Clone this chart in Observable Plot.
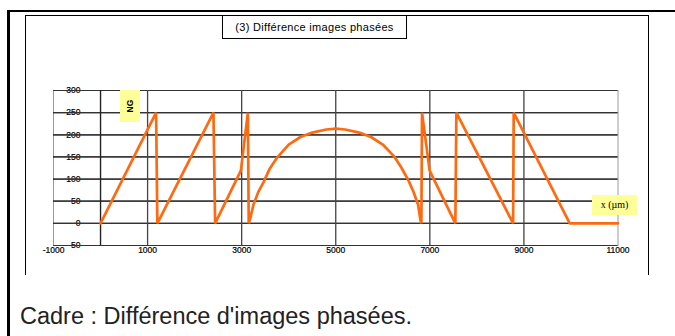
<!DOCTYPE html>
<html>
<head>
<meta charset="utf-8">
<script src="https://cdn.jsdelivr.net/npm/d3@7"></script>
<script src="https://cdn.jsdelivr.net/npm/@observablehq/plot@0.6"></script>
<style>
  html, body { margin: 0; padding: 0; background: #fff; }
  #page { position: relative; width: 675px; height: 336px; overflow: hidden; font-family: Arial, "Liberation Sans", sans-serif; }
  #outer { position: absolute; left: 7px; top: 10px; width: 700px; height: 400px; border-left: 3px solid #000; border-top: 2.5px solid #000; box-sizing: border-box; }
  #inner { position: absolute; left: 25px; top: 15px; width: 624px; height: 260px; border-left: 1px solid #000; border-top: 1px solid #000; border-right: 1px solid #000; box-sizing: border-box; }
  #chart { position: absolute; left: 0; top: 0; }
  #title { position: absolute; left: 222px; top: 15px; width: 185px; height: 24px; border: 1px solid #000; border-right-width: 1.5px; border-bottom-width: 1.5px; box-sizing: border-box; background: #fff; font-size: 11px; line-height: 22px; text-align: center; letter-spacing: 0.3px; color: #000; }
  #ng { position: absolute; left: 120px; top: 90px; width: 19.5px; height: 32px; background: #FFFF99; }
  #ng span { position: absolute; left: 50%; top: 50%; transform: translate(-50%, -50%) rotate(-90deg); font-size: 8.5px; font-weight: bold; white-space: nowrap; }
  #xl { position: absolute; left: 592px; top: 195px; width: 45px; height: 20px; background: #FFFF99; font-family: "Times New Roman", "Liberation Serif", serif; font-size: 10px; line-height: 20px; text-align: center; }
  #caption { position: absolute; left: 20px; top: 303px; font-size: 23.5px; color: #222; white-space: nowrap; }
</style>
</head>
<body>
<div id="page">
  <div id="outer"></div>
  <div id="inner"></div>
  <div id="chart"></div>
  <div id="title">(3) Différence images phasées</div>
  <div id="ng"><span>NG</span></div>
  <div id="xl">x (µm)</div>
  <div id="caption">Cadre : Différence d'images phasées.</div>
</div>
<script>
// positions x (µm) and grey level NG
const xValues = [0, 1181, 1208, 2400, 2436, 2983, 3132, 3150,
  3180, 3250, 3350, 3460, 3600, 3750, 4000, 4250, 4500, 4800, 5000,
  5200, 5500, 5750, 6000, 6250, 6400, 6550, 6650, 6750, 6800,
  6820, 6834, 6996, 7543, 7564, 8770, 8783, 9974, 11000];
const ngValues = [0, 250, 0, 250, 0, 119, 250, 0,
  10, 42, 70, 92, 124, 148, 178, 195, 205, 212, 214,
  212, 205, 195, 178, 150, 125, 96, 72, 42, 8,
  0, 250, 119, 0, 250, 0, 250, 0, 0];

const xTicks = [-1000, 1000, 3000, 5000, 7000, 9000, 11000];
const xGrid = [1000, 3000, 5000, 7000, 9000];
const yTicks = [-50, 0, 50, 100, 150, 200, 250, 300];
const yGrid = [0, 50, 100, 150, 200, 250];

const data = xValues.map((x, i) => ({x, y: ngValues[i]}));

const chart = Plot.plot({
  width: 675,
  height: 336,
  marginLeft: 53,
  marginRight: 57.5,
  marginTop: 90,
  marginBottom: 91,
  style: {background: "transparent", fontFamily: "Arial, 'Liberation Sans', sans-serif", fontSize: "8px", overflow: "visible"},
  x: {domain: [-1000, 11000], axis: null},
  y: {domain: [-50, 300], axis: null},
  marks: [
    Plot.frame({stroke: "#9a9a9a", strokeWidth: 1}),
    // tick labels (drawn under the gridlines)
    Plot.text(yTicks, {x: 0, y: d => d, text: d => String(d), dx: -20, textAnchor: "end", fill: "#000", fontSize: 8.5, stroke: "#000", strokeWidth: 0.2}),
    Plot.text(xTicks, {x: d => d, y: -50, text: d => String(d), dy: 5, fill: "#000", fontSize: 8.5, stroke: "#000", strokeWidth: 0.2}),
    // y tick marks on the axis at x = 0
    Plot.tickY(yTicks, {y: d => d, x1: -440, x2: 0, stroke: "#333", strokeWidth: 1.2}),
    // gridlines
    Plot.ruleY(yGrid, {x1: -1000, x2: 11000, stroke: "#333", strokeWidth: 1.3}),
    Plot.ruleX(xGrid, {y1: -50, y2: 300, stroke: "#444", strokeWidth: 1.3}),
    Plot.ruleX([0], {y1: -50, y2: 300, stroke: "#222", strokeWidth: 1.4}),
    // the profile
    Plot.line(data, {x: "x", y: "y", stroke: "#FF6A10", strokeWidth: 2.7, strokeLinejoin: "miter"})
  ]
});
document.getElementById("chart").appendChild(chart);
</script>
</body>
</html>
